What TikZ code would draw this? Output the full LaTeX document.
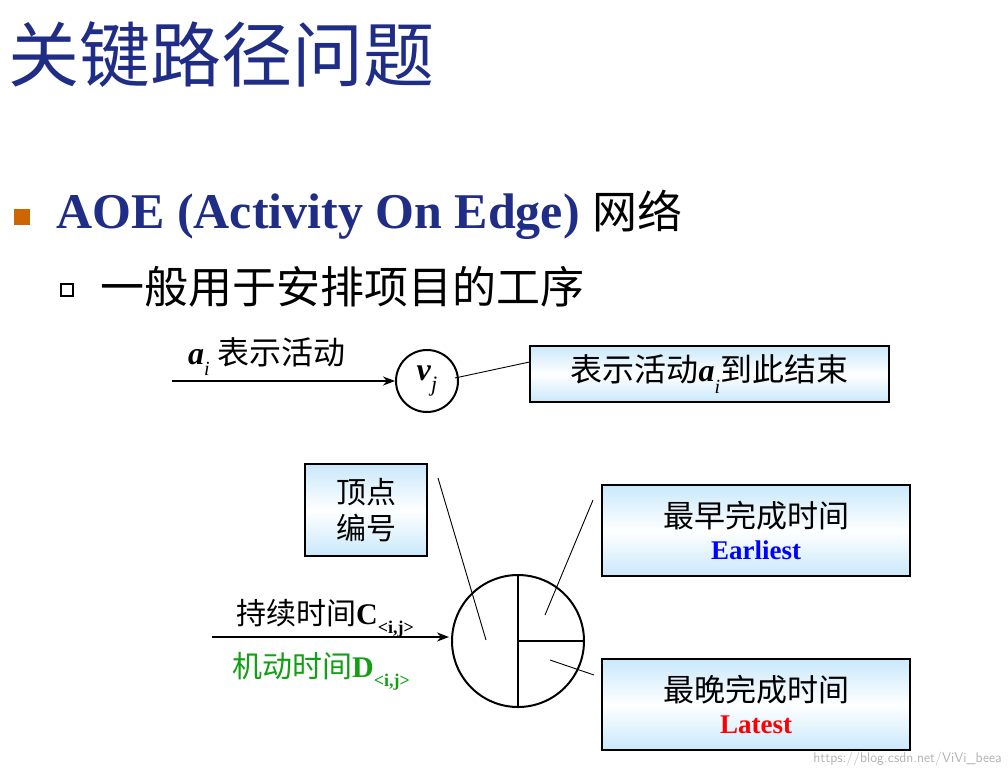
\documentclass[tikz,border=0pt]{standalone}
\usepackage{fontspec}
\setmainfont{Liberation Serif}
\newfontfamily\cjk{Noto Sans CJK SC}
\usetikzlibrary{arrows.meta}
\definecolor{tblue}{HTML}{1F2D86}
\definecolor{bx}{HTML}{C9E8FB}
\definecolor{gr}{HTML}{12A012}
\newcommand{\bi}[3]{\textbf{\textit{#1}}\raisebox{-0.35em}{\textit{\fontsize{#3}{#3}\selectfont #2}}}
\tikzset{
  gbox/.style={draw,line width=1.1pt,top color=bx,bottom color=bx,middle color=white,inner sep=0pt,align=center},
  lbl/.style={inner sep=0pt},
  arr/.style={line width=2pt,-{Stealth[length=12pt,width=9pt]}},
  thin line/.style={line width=0.9pt}
}
\begin{document}
\begin{tikzpicture}[x=1pt,y=-1pt]
\useasboundingbox (0,0) rectangle (1008,772);
% title
\node[lbl,anchor=west,text=tblue,font=\cjk\fontsize{71}{76}\selectfont] (title) at (8,55) {关键路径问题};
% bullet 1
\fill[fill={rgb,255:red,204;green,102;blue,0}] (14,209) rectangle (30,225);
\node[lbl,anchor=west,font=\fontsize{50}{52}\selectfont] (aoe) at (56,215) {\textcolor{tblue}{\bfseries AOE (Activity On Edge)} {\cjk\fontsize{45}{48}\selectfont 网络}};
% bullet 2
\draw[line width=1.2pt] (61,284) rectangle (73,296);
\node[lbl,anchor=west,font=\cjk\fontsize{44}{46}\selectfont] (gen) at (100,287) {一般用于安排项目的工序};
% top section
\node[draw,line width=2pt,circle,minimum size=62pt,inner sep=0pt] (vj) at (427,381) {\fontsize{32}{34}\selectfont\bi{v}{j}{22}};
\coordinate (a0) at (172,381);
\draw[arr] (a0) -- (vj);
\node[lbl,anchor=south west,font=\fontsize{32}{34}\selectfont] (ai) at (188,376) {\bi{a}{i}{20} {\cjk 表示活动}};
\node[gbox,minimum width=359pt,minimum height=56pt,font=\fontsize{32}{34}\selectfont] (endbox) at (709.5,374) {{\cjk 表示活动}\bi{a}{i}{20}{\cjk 到此结束}};
\draw[thin line] (455,378) -- (endbox.west|-0,362);
% bottom section
\node[gbox,minimum width=122pt,minimum height=92pt,font=\cjk\fontsize{30}{36}\selectfont] (num) at (366,510) {顶点\\编号};
\node[draw,line width=2pt,circle,minimum size=132pt,inner sep=0pt] (big) at (518,641) {};
\draw[line width=2pt] (big.north) -- (big.south);
\draw[line width=2pt] (big.center) -- (big.east);
\node[gbox,minimum width=308pt,minimum height=91pt,font=\fontsize{31}{34}\selectfont] (early) at (756,530.5) {{\cjk 最早完成时间}\\[-2pt]\textcolor{blue}{\bfseries\fontsize{27}{30}\selectfont Earliest}};
\node[gbox,minimum width=308pt,minimum height=91pt,font=\fontsize{31}{34}\selectfont] (late) at (756,704.5) {{\cjk 最晚完成时间}\\[-2pt]\textcolor{red}{\bfseries\fontsize{27}{30}\selectfont Latest}};
\draw[thin line] (438,478) -- (486,640);
\draw[thin line] (593,500) -- (545,615);
\draw[thin line] (550,660) -- (594,675);
\coordinate (b0) at (212,637);
\coordinate (b1) at (449,637);
\draw[arr] (b0) -- (b1);
\node[lbl,anchor=south west,font=\fontsize{30}{32}\selectfont] (dur) at (236,638) {{\cjk 持续时间}\textbf{C}\raisebox{-9pt}{\bfseries\fontsize{18}{20}\selectfont <i,j>}};
\node[lbl,anchor=north west,text=gr,font=\fontsize{30}{32}\selectfont] (slack) at (232,652) {{\cjk 机动时间}\textbf{D}\raisebox{-9pt}{\bfseries\fontsize{18}{20}\selectfont <i,j>}};
\node[lbl,anchor=south east,text=gray!60,font=\sffamily\fontsize{14}{16}\selectfont] (wm) at (1002,766) {https://blog.csdn.net/ViVi\_beea};
\end{tikzpicture}
\end{document}
